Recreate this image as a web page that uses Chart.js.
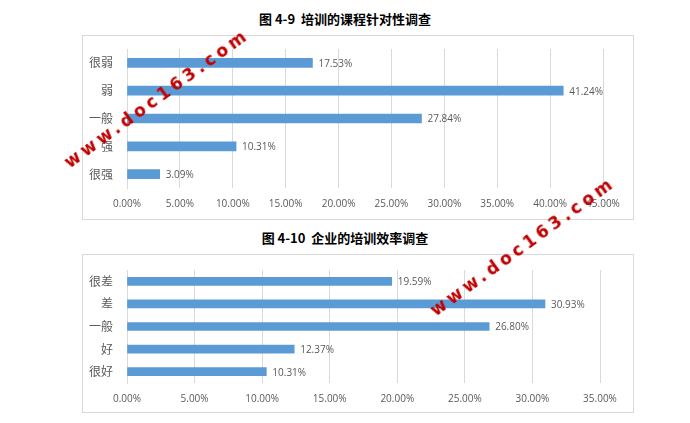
<!DOCTYPE html>
<html><head><meta charset="utf-8">
<script src="https://cdn.jsdelivr.net/npm/chart.js@4"></script>
<style>
body{margin:0;width:690px;height:423px;background:#fff;position:relative;overflow:hidden;font-family:"Noto Sans CJK SC";}
.t{position:absolute;left:0;width:690px;text-align:center;font-weight:bold;font-size:13px;color:#000;white-space:pre;}
.box{position:absolute;left:82px;width:550px;border:1px solid #d9d9d9;}
canvas{position:absolute;}
.wm{position:absolute;color:#c00000;font-family:"DejaVu Sans";font-weight:bold;font-size:17px;letter-spacing:4px;transform-origin:left bottom;white-space:nowrap;}
</style></head><body>
<div class="t" style="top:9px">图 4-9  培训的课程针对性调查</div>
<div class="box" style="top:35px;height:183px"></div>
<div class="t" style="top:228px">图 4-10  企业的培训效率调查</div>
<div class="box" style="top:254px;height:157px"></div>
<div style="position:absolute;left:82px;top:35px;width:552px;height:184px"><canvas id="c1"></canvas></div>
<div style="position:absolute;left:82px;top:254px;width:552px;height:158px"><canvas id="c2"></canvas></div>
<div class="wm" style="left:72px;top:152px;transform:rotate(-36deg)">www.doc163.com</div>
<div class="wm" style="left:438px;top:300px;transform:rotate(-36deg)">www.doc163.com</div>
<script>
const cats1=["很弱","弱","一般","强","很强"];
const vals1=[17.53,41.24,27.84,10.31,3.09];
const ticks1Max=45;
const cats2=["很差","差","一般","好","很好"];
const vals2=[19.59,30.93,26.80,12.37,10.31];
const ticks2Max=35;
const lbl={id:'lbl',afterDatasetsDraw(ch){const c=ch.ctx;const m=ch.getDatasetMeta(0);c.save();c.font='10px "Open Sans"';c.fillStyle='#595959';c.textBaseline='middle';
m.data.forEach((b,i)=>{c.fillText(ch.data.datasets[0].data[i].toFixed(2)+'%',b.x+6,b.y+1);});c.restore();}};
function mk(id,cats,vals,max,pad,th,xh){
 new Chart(document.getElementById(id),{type:'bar',data:{labels:cats,datasets:[{data:vals,backgroundColor:'#5b9bd5',barThickness:th}]},
 options:{indexAxis:'y',responsive:true,maintainAspectRatio:false,animation:false,
 layout:{padding:{left:0,right:pad.r,top:pad.t,bottom:0}},
 plugins:{legend:{display:false},tooltip:{enabled:false}},
 scales:{x:{min:0,max:max,ticks:{stepSize:5,padding:10,callback:v=>v.toFixed(2)+'%',color:'#595959',font:{size:10,family:'"Open Sans"'},maxRotation:0},
 grid:{color:'#d9d9d9',drawTicks:false},border:{display:false},afterFit:s=>{s.height=xh;}},
 y:{ticks:{color:'#595959',font:{size:12,family:'"Noto Sans CJK SC"'},padding:6},grid:{display:false},border:{color:'#d9d9d9'},afterFit:s=>{s.width=45;}}}},
 plugins:[lbl]});
}
mk('c1',cats1,vals1,ticks1Max,{r:31,t:14},9,31);
mk('c2',cats2,vals2,ticks2Max,{r:34,t:16},8,29);
</script></body></html>
